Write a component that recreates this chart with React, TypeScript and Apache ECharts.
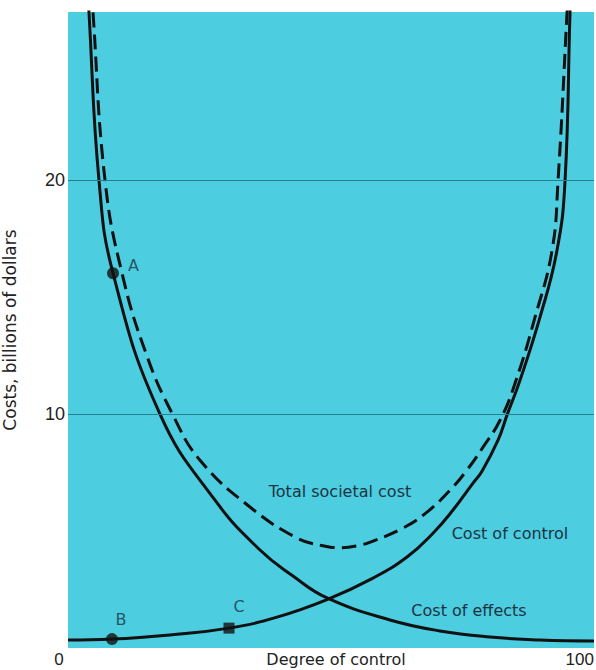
import React, { useEffect, useRef } from "react";
import * as echarts from "echarts";

// Cost of effects (solid, decreasing)
const xEffects = [3.88, 4.07, 6.01, 8.73, 17.84, 28.51, 37.23, 43.63, 50.23, 62.44, 72.13, 81.83, 91.53, 102];
const yEffects = [28.12, 27.18, 20.0, 16.03, 10.0, 6.32, 4.19, 3.08, 2.14, 1.2, 0.73, 0.47, 0.34, 0.3];

// Cost of control (solid, increasing)
const xControl = [0, 8.53, 19.78, 31.22, 40.53, 50.23, 59.15, 65.74, 70.78, 74.66, 78.54, 80.28, 83.39, 85.13, 87.65, 91.53, 94.83, 96.38, 97.35, 97.54];
const yControl = [0.34, 0.38, 0.56, 0.85, 1.32, 2.07, 2.99, 3.89, 4.91, 5.9, 7.05, 7.56, 8.89, 9.96, 11.45, 14.15, 17.01, 19.96, 27.18, 28.12];

// Total societal cost (dashed)
const xTotal = [4.65, 4.85, 7.18, 10.47, 15.32, 20.36, 25.6, 35.29, 44.41, 48.87, 52.73, 56.62, 59.15, 64.96, 69.62, 74.08, 77.37, 80.48, 83.78, 86.69, 90.57, 93.87, 95.02, 96.77, 96.96];
const yTotal = [28.12, 27.18, 20.0, 16.03, 12.48, 9.96, 8.03, 6.03, 4.7, 4.4, 4.29, 4.4, 4.57, 5.13, 5.81, 6.75, 7.61, 8.59, 9.74, 11.32, 14.15, 17.01, 19.96, 27.18, 28.12];

// Marked points
const pointNames = ["A", "B", "C"];
const pointX = [8.73, 8.53, 31.22];
const pointY = [16.03, 0.38, 0.85];

// Axis ticks
const xTickLabels = [0, 100];
const yTickLabels = [10, 20];
const gridValues = [10, 20];

const curveLabels = ["Total societal cost", "Cost of control", "Cost of effects"];

const CYAN = "#4ccde0";
const INK = "#1c3442";
const SANS = "DejaVu Sans, Verdana, sans-serif";
const ARIAL = "Liberation Sans, Arial, sans-serif";

export default function App() {
  const ref = useRef<HTMLDivElement>(null);
  useEffect(() => {
    document.body.style.margin = "0";
    const chart = echarts.init(ref.current!, null, { renderer: "svg" });
    const zip = (xs: number[], ys: number[]) => xs.map((x, i) => [x, ys[i]]);
    const lineBase = {
      type: "line" as const,
      showSymbol: false,
      smooth: 0.45,
      clip: true,
      silent: true,
    };
    const labelPos: any[] = [
      { position: "right", offset: [4, -8] },
      { position: "top", offset: [9, -1] },
      { position: "top", offset: [10, -3] },
    ];
    const labelFont = "16px " + SANS;
    chart.setOption({
      animation: false,
      textStyle: { fontFamily: SANS },
      grid: {
        left: 68,
        right: 2,
        top: 12,
        bottom: 22,
        show: true,
        backgroundColor: CYAN,
        borderWidth: 0,
        outerBoundsMode: "none",
        containLabel: false,
      },
      xAxis: {
        type: "value",
        min: 0,
        max: 102,
        interval: 100,
        axisLine: { show: false },
        axisTick: { show: false },
        splitLine: { show: false },
        axisLabel: {
          margin: 3,
          fontSize: 17,
          fontFamily: ARIAL,
          color: "#222",
          showMaxLabel: false,
          formatter: (v: number) =>
            xTickLabels.includes(v) ? (v === 0 ? "{z|" + v + "}" : "{h|" + v + "}") : "",
          rich: {
            z: { fontSize: 17, fontFamily: ARIAL, color: "#222", padding: [0, 18, 0, 0] },
            h: { fontSize: 17, fontFamily: ARIAL, color: "#222", padding: [0, 8, 0, 0] },
          },
        },
        name: "Degree of control",
        nameLocation: "middle",
        nameGap: 3,
        nameMoveOverlap: false,
        nameTextStyle: { fontSize: 16, color: "#222", padding: [0, 0, 0, 10] },
      },
      yAxis: {
        type: "value",
        min: 0,
        max: 27.2,
        interval: 10,
        axisLine: { show: false },
        axisTick: { show: false },
        splitLine: { show: false },
        axisLabel: {
          margin: 3,
          fontSize: 18,
          fontFamily: ARIAL,
          color: "#222",
          formatter: (v: number) => (yTickLabels.includes(v) ? String(v) : ""),
        },
        name: "Costs, billions of dollars",
        nameLocation: "middle",
        nameGap: 50,
        nameMoveOverlap: false,
        nameTextStyle: { fontSize: 17, color: "#222" },
      },
      series: [
        {
          ...lineBase,
          name: "Cost of effects",
          data: zip(xEffects, yEffects),
          lineStyle: { color: "#111", width: 3 },
          markLine: {
            silent: true,
            symbol: "none",
            label: { show: false },
            lineStyle: { color: "#25808f", width: 1, type: "solid" },
            data: gridValues.map((v) => ({ yAxis: v })),
          },
          z: 3,
        },
        {
          ...lineBase,
          name: "Cost of control",
          data: zip(xControl, yControl),
          lineStyle: { color: "#111", width: 3 },
          z: 3,
        },
        {
          ...lineBase,
          name: "Total societal cost",
          data: zip(xTotal, yTotal),
          lineStyle: { color: "#111", width: 3, type: [15, 7] },
          z: 3,
        },
        {
          type: "scatter",
          silent: true,
          z: 5,
          data: pointNames.map((n, i) => ({
            value: [pointX[i], pointY[i]],
            name: n,
            symbol: n === "C" ? "rect" : "circle",
            symbolSize: n === "C" ? 11 : 12,
            label: {
              show: true,
              formatter: n,
              fontSize: 16,
              color: INK,
              ...labelPos[i],
            },
          })),
          itemStyle: { color: "#111" },
        },
      ],
      graphic: [
        { type: "text", x: 340, y: 491, style: { text: curveLabels[0], font: labelFont, fill: INK, align: "center", verticalAlign: "middle" } },
        { type: "text", x: 510, y: 533, style: { text: curveLabels[1], font: labelFont, fill: INK, align: "center", verticalAlign: "middle" } },
        { type: "text", x: 469, y: 610, style: { text: curveLabels[2], font: labelFont, fill: INK, align: "center", verticalAlign: "middle" } },
      ],
    });
    return () => chart.dispose();
  }, []);
  return <div ref={ref} style={{ width: 596, height: 670 }} />;
}
